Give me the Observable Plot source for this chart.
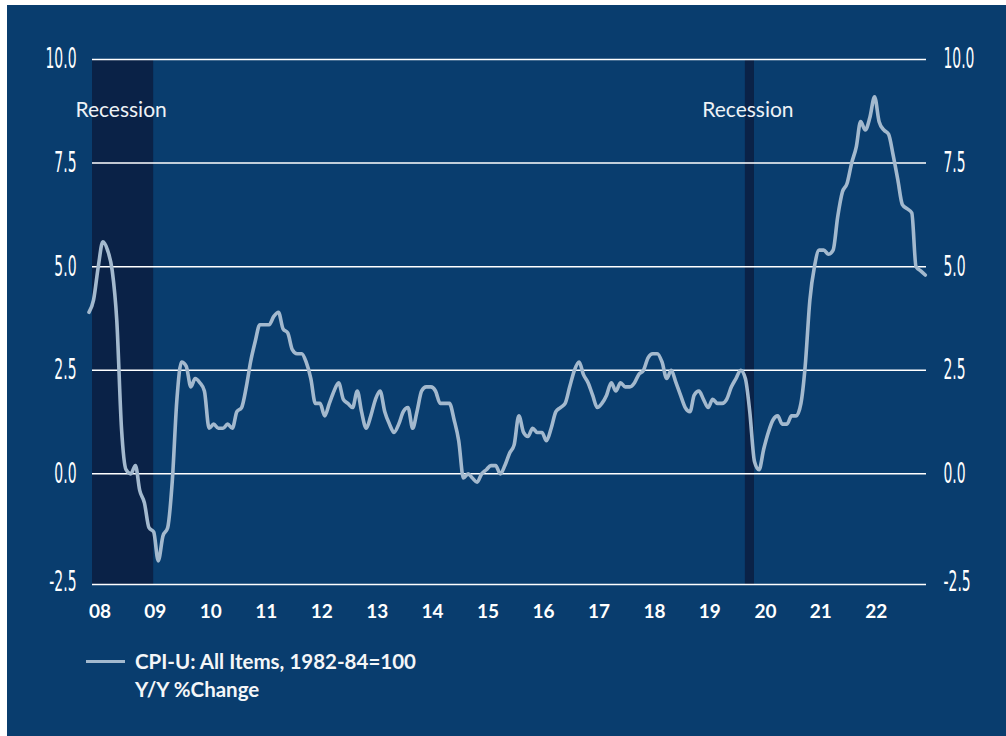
<!DOCTYPE html>
<html>
<head>
<meta charset="utf-8">
<script src="https://cdn.jsdelivr.net/npm/d3@7"></script>
<script src="https://cdn.jsdelivr.net/npm/@observablehq/plot@0.6"></script>
<style>
  html, body { margin: 0; padding: 0; background: #ffffff; }
  #wrap { position: absolute; left: 7px; top: 5px; width: 999px; height: 731px; background: #093D6E; overflow: hidden; }
  #chart svg { display: block; }
  #legend { position: absolute; left: 79px; top: 642px; font-family: Lato, "Open Sans", sans-serif; font-weight: 700; font-size: 20.5px; line-height: 28px; color: #F4F6F8; }
  #legend .swatch { position: absolute; left: 0; top: 12.5px; width: 39px; height: 3px; background: #A3B9CE; }
  #legend .label { position: absolute; left: 49px; top: 0; white-space: nowrap; }
</style>
</head>
<body>
<div id="wrap">
  <div id="chart"></div>
  <div id="legend"><div class="swatch"></div><div class="label">CPI-U: All Items, 1982-84=100<br>Y/Y %Change</div></div>
</div>
<script>
// ---- data ----
const firstMonth = "2008-04-01";
const cpi2008 = [3.9, 4.2, 5.0, 5.6, 5.4, 4.9, 3.7, 1.1, 0.1];            // Apr-Dec
const cpi2009 = [0.0, 0.2, -0.4, -0.7, -1.3, -1.4, -2.1, -1.5, -1.3, -0.2, 1.8, 2.7];
const cpi2010 = [2.6, 2.1, 2.3, 2.2, 2.0, 1.1, 1.2, 1.1, 1.1, 1.2, 1.1, 1.5];
const cpi2011 = [1.6, 2.1, 2.7, 3.2, 3.6, 3.6, 3.6, 3.8, 3.9, 3.5, 3.4, 3.0];
const cpi2012 = [2.9, 2.9, 2.7, 2.3, 1.7, 1.7, 1.4, 1.7, 2.0, 2.2, 1.8, 1.7];
const cpi2013 = [1.6, 2.0, 1.5, 1.1, 1.4, 1.8, 2.0, 1.5, 1.2, 1.0, 1.2, 1.5];
const cpi2014 = [1.6, 1.1, 1.5, 2.0, 2.1, 2.1, 2.0, 1.7, 1.7, 1.7, 1.3, 0.8];
const cpi2015 = [-0.1, 0.0, -0.1, -0.2, 0.0, 0.1, 0.2, 0.2, 0.0, 0.2, 0.5, 0.7];
const cpi2016 = [1.4, 1.0, 0.9, 1.1, 1.0, 1.0, 0.8, 1.1, 1.5, 1.6, 1.7, 2.1];
const cpi2017 = [2.5, 2.7, 2.4, 2.2, 1.9, 1.6, 1.7, 1.9, 2.2, 2.0, 2.2, 2.1];
const cpi2018 = [2.1, 2.2, 2.4, 2.5, 2.8, 2.9, 2.9, 2.7, 2.3, 2.5, 2.2, 1.9];
const cpi2019 = [1.6, 1.5, 1.9, 2.0, 1.8, 1.6, 1.8, 1.7, 1.7, 1.8, 2.1, 2.3];
const cpi2020 = [2.5, 2.3, 1.5, 0.3, 0.1, 0.6, 1.0, 1.3, 1.4, 1.2, 1.2, 1.4];
const cpi2021 = [1.4, 1.7, 2.6, 4.2, 5.0, 5.4, 5.4, 5.3, 5.4, 6.2, 6.8, 7.0];
const cpi2022 = [7.5, 7.9, 8.5, 8.3, 8.6, 9.1, 8.5, 8.3, 8.2, 7.7, 7.1, 6.5];
const cpi2023 = [6.4, 6.3, 5.0, 4.9, 4.8];                                  // Jan-May

const recessions = [
  { start: "2007-12-01", end: "2009-06-01", label: "Recession" },
  { start: "2020-02-01", end: "2020-04-01", label: "Recession" }
];

const xDomain = ["2008-04-24", "2023-05-09"];
const xTickYears = [2008, 2009, 2010, 2011, 2012, 2013, 2014, 2015, 2016, 2017, 2018, 2019, 2020, 2021, 2022];
const xTickLabels = ["08", "09", "10", "11", "12", "13", "14", "15", "16", "17", "18", "19", "20", "21", "22"];
const yMin = -2.67, yMax = 10;
const yTicks = [-2.5, 0, 2.5, 5, 7.5, 10];
const yTickLabels = ["-2.5", "0.0", "2.5", "5.0", "7.5", "10.0"];

// ---- build ----
const allValues = [].concat(cpi2008, cpi2009, cpi2010, cpi2011, cpi2012, cpi2013, cpi2014,
  cpi2015, cpi2016, cpi2017, cpi2018, cpi2019, cpi2020, cpi2021, cpi2022, cpi2023);
const start = new Date(firstMonth + "T00:00Z");
const series = allValues.map((v, i) => ({ date: d3.utcMonth.offset(start, i), value: v }));
const dStart = new Date(xDomain[0] + "T00:00Z"), dEnd = new Date(xDomain[1] + "T00:00Z");
const rec = recessions.map(r => {
  const s = new Date(r.start + "T00:00Z"), e = new Date(r.end + "T00:00Z");
  const cs = s < dStart ? dStart : s, ce = e > dEnd ? dEnd : e;
  return { start: s, end: e, mid: new Date((+cs + +ce) / 2), label: r.label };
});
const xTicks = xTickYears.map(y => new Date(Date.UTC(y, 5, 12)));
const fmtX = d => xTickLabels[xTicks.findIndex(t => +t === +d)];
const axisTicks = yTicks.filter(t => t >= yMin + 0.5);
const fmtY = d => yTickLabels[yTicks.indexOf(d)];

const lineColor = "#A3B9CE";
const yFont = { fontFamily: "'Liberation Sans Narrow', 'DejaVu Sans Condensed', 'Liberation Sans', sans-serif", fontSize: 28 };

const chart = Plot.plot({
  width: 999,
  height: 630,
  marginLeft: 85,
  marginRight: 80,
  marginTop: 54,
  marginBottom: 51,
  style: { background: "transparent", color: "#FFFFFF", overflow: "visible" },
  x: { type: "utc", domain: [dStart, dEnd] },
  y: { domain: [yMin, yMax] },
  marks: [
    Plot.rect(rec, { x1: "start", x2: "end", y1: yMin, y2: yMax, fill: "#0A2247", clip: true }),
    Plot.ruleY(axisTicks, { stroke: "#FFFFFF", strokeWidth: 1.5 }),
    Plot.ruleY([yMin], { stroke: "#FFFFFF", strokeWidth: 1.5 }),
    Plot.text(rec, { x: "mid", text: "label", frameAnchor: "top", dy: 43, dx: -2, fill: "#EEF2F6",
      fontFamily: "Lato, 'Open Sans', sans-serif", fontSize: 21 }),
    Plot.lineY(series, { x: "date", y: "value", stroke: lineColor, strokeWidth: 3.6,
      strokeLinejoin: "round", strokeLinecap: "round", curve: "monotone-x" }),
    Plot.axisY(axisTicks, { anchor: "left", label: null, tickSize: 0, tickPadding: 16, tickFormat: fmtY, ...yFont, fill: "#FFFFFF" }),
    Plot.axisY(axisTicks, { anchor: "right", label: null, tickSize: 0, tickPadding: 17, tickFormat: fmtY, ...yFont, fill: "#FFFFFF" }),
    Plot.text([yTickLabels[0]], { frameAnchor: "bottom-left", textAnchor: "end", dx: -16, dy: 6, ...yFont, fill: "#FFFFFF" }),
    Plot.text([yTickLabels[0]], { frameAnchor: "bottom-right", textAnchor: "start", dx: 17, dy: 6, ...yFont, fill: "#FFFFFF" }),
    Plot.axisX(xTicks, { tickSize: 0, tickPadding: 20, tickFormat: fmtX, fontFamily: "Lato, 'Open Sans', sans-serif",
      fontWeight: 700, fontSize: 19, fill: "#FFFFFF", label: null })
  ]
});
document.getElementById("chart").appendChild(chart);

// condense the y tick labels (narrow display face)
const yTexts = Array.from(chart.querySelectorAll("text")).filter(t => yTickLabels.includes(t.textContent) &&
  !(t.closest("g[aria-label='x-axis tick label']")));
const ref = yTexts.find(t => t.textContent === "10.0");
const s = ref ? Math.min(1, 31 / ref.getBBox().width) : 0.72;
for (const t of yTexts) {
  const tr = t.getAttribute("transform") || "";
  const m = /translate\(([-\d.e]+)[ ,]+([-\d.e]+)\)/.exec(tr);
  let tx = m ? +m[1] : 0, ty = m ? +m[2] : 0;
  const xa = t.getAttribute("x");
  if (xa !== null && !isNaN(+xa)) { tx += +xa; t.removeAttribute("x"); }
  const ya = t.getAttribute("y");
  if (ya !== null && !isNaN(+ya)) { ty += +ya; t.removeAttribute("y"); }
  t.setAttribute("transform", `translate(${tx},${ty}) scale(${s},1)`);
}
</script>
</body>
</html>
